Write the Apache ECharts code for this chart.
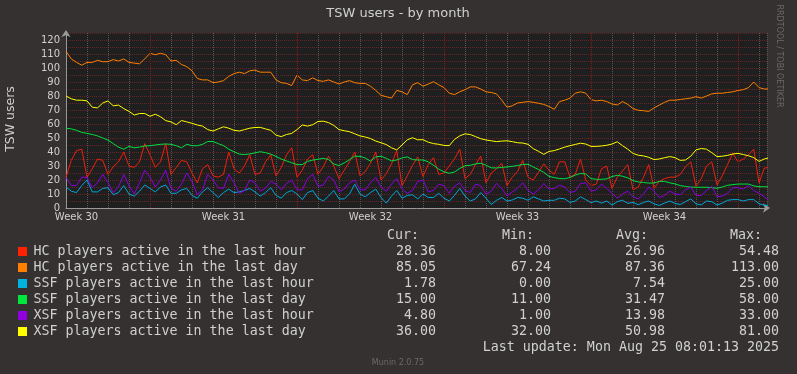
<!DOCTYPE html>
<html><head><meta charset="utf-8">
<script src="https://cdn.jsdelivr.net/npm/echarts@6/dist/echarts.min.js"></script>
<style>html,body{margin:0;padding:0;background:#343130;}#c{width:797px;height:374px;}</style>
</head><body><div id="c"></div>
<script>
// ---- data ----
const stepDays = 0.25;          // sample spacing (days)
const axisDays = 33.38;         // visible span (days)
const weekLines = [4, 11, 18, 25, 32];
const weekLabelPos = [0.5, 7.5, 14.5, 21.5, 28.5];
const weekLabels = ['Week 30', 'Week 31', 'Week 32', 'Week 33', 'Week 34'];

const seriesNames = [
  'HC players active in the last hour',
  'HC players active in the last day',
  'SSF players active in the last hour',
  'SSF players active in the last day',
  'XSF players active in the last hour',
  'XSF players active in the last day'
];
const curVals = ['28.36', '85.05', '1.78', '15.00', '4.80', '36.00'];
const minVals = ['8.00', '67.24', '0.00', '11.00', '1.00', '32.00'];
const avgVals = ['26.96', '87.36', '7.54', '31.47', '13.98', '50.98'];
const maxVals = ['54.48', '113.00', '25.00', '58.00', '33.00', '81.00'];

const hcHour = [22,34,41,42, 22,28,35,34, 24,29.5,33,40, 30,29,33,46, 38,29,33,46, 24,29,34,33,
  25,18,28,31, 23,22,24,40, 28,25,30,38, 24,25,33,38, 23,29,38,43, 22,27,35,38, 24,29.5,37,30,
  21,27,33,40, 23,26,32,40, 20,24.5,31.5,41, 16,23,30.5,36.5, 22.5,31,36,24, 25,30,35,42,
  21,24,31,37, 18,25,28,32, 16,22,26,34, 22,20,25.5,31.5, 27,24,33,33, 22,24,35,20,
  16,17,28,30, 14,22,26.5,31, 13,15,22,31, 14,19,21,22, 22,24,29.5,33, 15.5,21,30,33,
  16.5,23,31,39, 33,35,38,42, 18,28.5,29];
const hcDay = [112,106.5,104,102, 104,104,105.5,104.5, 104.5,106,105,106.5, 104,103.5,103,106.5,
  110.5,109.5,110.5,109.5, 105,105.5,102.5,101, 98,92.5,91.5,91.5, 89.5,90,91,94, 96,97,96,98,
  98.5,97,97,97, 91.5,89.5,89,87.5, 95,91.5,91,93, 91,90.5,91.5,90, 88.6,90,91,89.5,
  89,89,87,84, 80.5,79.5,78.5,84, 83,81,88,89.5, 87,88.5,90.2,88, 86,82,81,83,
  84.5,86.5,86.5,85, 83,82.5,81.5,77, 72,73,75,75.5, 76,75.5,74.8,74, 72.5,70.5,76,77,
  78.5,82,83,82, 77.5,76.5,77,76, 74.3,73.6,76,74, 71,69.8,69.5,69, 71.5,73.5,75.5,77,
  77,77.5,78,78.5, 79.5,78.5,80,81.5, 82,82,82.5,83, 84,84.5,86,90, 86,85,85];
const ssfHour = [15,12,11,16, 20,11.5,11.5,14, 14.5,9.5,11,16, 10,8.5,12,16.4, 14,11.5,15,16.4,
  10.5,10.5,13,14, 9,7,11.5,14.5, 11,7.5,11,13.5, 11,11.5,12.5,14, 11.5,8.5,11,14.5,
  9,7,11,12.5, 10,6,11,12.5, 7,5,8.5,12.5, 6.5,6.5,10,17, 10,8,11,13.5, 7.5,3.5,8.5,12.5,
  7,9,9.5,6.5, 10,7.5,7.5,10.5, 7,5,9,14, 8.5,5,6.5,11, 7,2.5,5.5,7.5, 5,5.7,7.5,7,
  5.5,8,6.5,5, 5.5,5.5,7,6.5, 4,5,8,6, 3.8,5,3.5,5, 2.1,4.5,5.5,3.3, 4,2.3,4,5,
  3,1.8,3.5,5, 3.3,2.5,4.5,6.5, 3,2.2,5,4.5, 2.1,3.5,5.5,6, 6,5,6,6, 3,2,1.8];
const ssfDay = [57,56.5,55.5,54, 53.3,52.5,51.5,50, 48.5,46,43.5,42, 44,43,43.5,44.3, 44.5,45,45.5,45.7,
  45.5,44.5,43,45.5, 44.5,44.5,45.5,47.5, 47.5,46,44.5,42, 40.2,38.5,38.2,38.6, 39.4,40.2,39.5,38.5,
  36.8,35,33.6,32.3, 31,31,33.3,34.2, 34.8,35.5,34.6,31.5, 30.3,32.2,34.5,37, 36.9,35.7,33.5,36.5,
  37,35.5,33.6,34.3, 35.8,36.5,34.6,34.3, 34.3,33,30.5,27.8, 25.8,24.8,25.7,28.3, 30.2,30.5,31.5,32,
  30.5,28.7,28.6,29, 29.3,29.8,30.3,31.1, 31.2,29.3,27.5,25.5, 22.6,21.7,21,20.9, 21.8,23.5,24.7,24.3,
  21,20.5,20.5,20.8, 22.5,23.4,22.7,21.5, 19.6,18.6,18.2,17.8, 17.9,19,19,18, 17.2,16,15.4,14.9,
  14.8,14.8,14.8,14.5, 14.1,15,16.2,16.7, 17.1,17.1,17.1,15.8, 15.2,15.2,15];
const xsfHour = [22,16,16,22, 22,14.5,18,24, 18,11,15,24, 16,10,18,27, 22,15,20,27, 14,12,17,25,
  19,9.5,13,24, 20,14.5,14,24, 18,10.5,12.5,20, 18,12,14,19, 17,13,17.5,20, 13,13,21,24,
  15.5,16.4,22.5,20, 11.7,13.5,18,20, 13,13,18,22, 15,12,17,21, 13.5,10.5,12.5,19, 20,11.5,12.5,17,
  16,10.5,15.5,18, 12.5,11,17,16, 9.8,12,17.6,14, 8.5,11.5,14,18, 12.5,10,13,17.5, 13.5,14,16.4,15,
  11,12,17.5,18, 12,13,17,14, 10.5,7,10,12, 8,6.5,10,15, 12,7.5,9,12, 10,9.5,13,15,
  9,9,12.5,15.5, 8,8.5,10.5,14.5, 14.5,13.5,16,12.5, 10.5,8,5];
const xsfDay = [80,78,77,77, 76.5,72,71.5,75, 76.5,73,73.5,71, 69,66.4,67.5,67.5, 65.5,67,65.2,62.4,
  61.5,59.5,62.5,61.5, 60.5,59.3,58.5,56, 55,56.5,58,57, 55.5,55,56,57, 57.5,57.6,56.5,55.5,
  52,51,52.5,53.3, 56,59.3,58.5,59.5, 61.8,62,61,59, 56,55.2,54.5,53, 51.5,50.7,49.6,47.8,
  46.6,45.3,43,41.5, 45,48.7,50.2,48.7, 48.8,47,46,45.5, 44.7,44.5,49,51.5, 53,52.5,51,49.5,
  48.6,48,47.4,47.8, 48,47.4,46.6,46.4, 45.5,42.4,40.5,38.3, 40.4,41,42.2,43.5, 44.5,45.4,46.3,45.7,
  44,44,44.3,44.8, 45.7,47.3,44.5,42, 39,37.7,37.2,36.2, 34.6,35,35.9,36.7, 36,34,34.3,37,
  41.5,42.5,42,39.5, 36.7,37,37.6,38.6, 39,38.2,37.3,36, 33.3,35,36];

const seriesValues = [hcHour, hcDay, ssfHour, ssfDay, xsfHour, xsfDay];
const lineColors = ['#f0200c', '#ff8000', '#00a8d8', '#00e040', '#8c00e0', '#ffff00'];
const boxColors = ['#ff2200', '#ff7f00', '#00b4e0', '#00e83c', '#9000e0', '#ffff00'];

// ---- chart ----
const chart = echarts.init(document.getElementById('c'));
const mk = vals => vals.map((v, i) => [i * stepDays, v]);
const TXT = '#d0d0d0';
const series = [{
  type: 'line', data: [], z: 1, silent: true,
  markLine: {
    silent: true, symbol: 'none', animation: false, label: { show: false },
    lineStyle: { color: '#8c1c1c', type: [1, 1], width: 1 },
    data: weekLines.map(v => ({ xAxis: v }))
  }
}];
seriesNames.forEach((name, i) => series.push({
  name, type: 'line', data: mk(seriesValues[i]), showSymbol: false, symbol: 'none',
  lineStyle: { color: lineColors[i], width: 1 }, itemStyle: { color: lineColors[i] },
  z: 3 + i, silent: true
}));

const graphics = [];
const txt = (x, y, text, font, fill, align, extra) => Object.assign({
  type: 'text', x, y,
  style: { text, font, fill, align: align || 'left', textAlign: align || 'left', verticalAlign: 'middle', textVerticalAlign: 'middle' }
}, extra || {});
graphics.push(txt(398, 14, 'TSW users - by month', '13px "DejaVu Sans"', TXT, 'center'));
graphics.push(txt(11, 119, 'TSW users', '12.5px "DejaVu Sans"', TXT, 'center', { rotation: Math.PI / 2 }));
graphics.push(txt(779, 56, 'RRDTOOL / TOBI OETIKER', '8px "DejaVu Sans"', '#6a6a6a', 'center', { rotation: -Math.PI / 2 }));
graphics.push(txt(398, 363, 'Munin 2.0.75', '8px "DejaVu Sans"', '#6a6a6a', 'center'));
const MONO = '13.3px "DejaVu Sans Mono"';
graphics.push(txt(387, 236, 'Cur:', MONO, TXT, 'left'));
graphics.push(txt(502, 236, 'Min:', MONO, TXT, 'left'));
graphics.push(txt(616, 236, 'Avg:', MONO, TXT, 'left'));
graphics.push(txt(730, 236, 'Max:', MONO, TXT, 'left'));
seriesNames.forEach((name, i) => {
  const y = 251.5 + 16 * i;
  graphics.push({ type: 'rect', shape: { x: 18, y: y - 4.5, width: 9, height: 9 }, style: { fill: boxColors[i] } });
  graphics.push(txt(33.5, y, name, MONO, TXT, 'left'));
  graphics.push(txt(436, y, curVals[i], MONO, TXT, 'right'));
  graphics.push(txt(551, y, minVals[i], MONO, TXT, 'right'));
  graphics.push(txt(665, y, avgVals[i], MONO, TXT, 'right'));
  graphics.push(txt(779, y, maxVals[i], MONO, TXT, 'right'));
});
graphics.push(txt(779, 347.5, 'Last update: Mon Aug 25 08:01:13 2025', MONO, TXT, 'right'));

chart.setOption({
  animation: false,
  backgroundColor: '#343130',
  grid: { left: 66, top: 33, width: 701, height: 175, show: true, backgroundColor: '#1f1f1f', borderWidth: 0 },
  xAxis: {
    type: 'value', min: 0, max: axisDays, interval: 1,
    axisLine: { show: true, lineStyle: { color: '#9a9a9a' }, symbol: ['none', 'arrow'], symbolSize: [7, 7], symbolOffset: [0, 3] },
    axisTick: { show: false },
    axisLabel: {
      customValues: weekLabelPos,
      formatter: v => { const k = weekLabelPos.indexOf(v); return k >= 0 ? weekLabels[k] : ''; },
      color: TXT, fontFamily: 'DejaVu Sans', fontSize: 10, margin: 4
    },
    splitLine: { show: true, lineStyle: { color: '#565656', type: [1, 1], width: 1 } }
  },
  yAxis: {
    type: 'value', min: 0, max: 125, interval: 5,
    axisLine: { show: true, lineStyle: { color: '#9a9a9a' }, symbol: ['none', 'arrow'], symbolSize: [7, 7], symbolOffset: [0, 3] },
    axisTick: { show: false },
    axisLabel: {
      formatter: v => (v % 10 === 0 && v <= 120) ? String(v) : '',
      color: TXT, fontFamily: 'DejaVu Sans', fontSize: 10, margin: 6
    },
    splitLine: { show: true, lineStyle: { color: '#622424', type: [1, 1], width: 1 } }
  },
  series,
  graphic: graphics
});
</script></body></html>
